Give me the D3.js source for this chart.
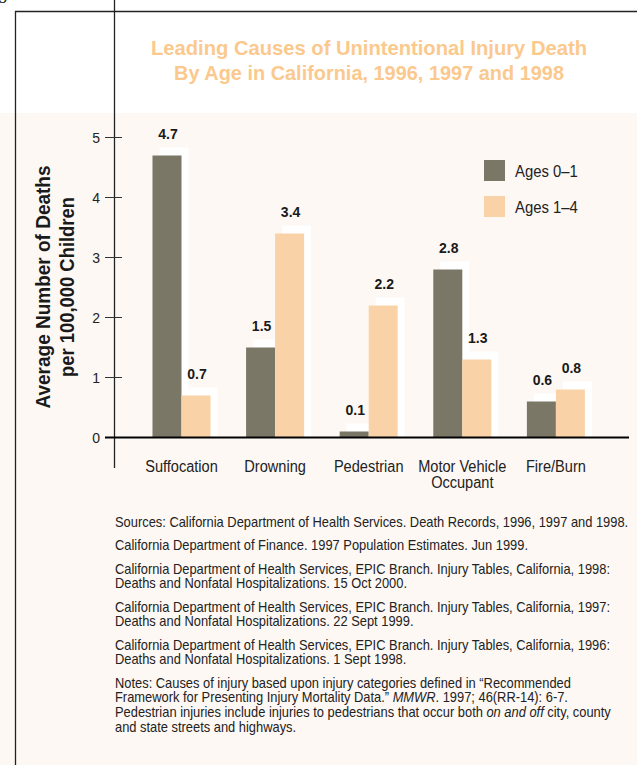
<!DOCTYPE html>
<html>
<head>
<meta charset="utf-8">
<script src="https://cdn.jsdelivr.net/npm/d3@7"></script>
<style>
    body { margin: 0; background: #ffffff; }
    svg { display: block; }
</style>
</head>
<body>
<div id="chart"></div>
<script>
// chart values
var categories = ["Suffocation", "Drowning", "Pedestrian", "Motor Vehicle Occupant", "Fire/Burn"];
var categoryLines = [["Suffocation"], ["Drowning"], ["Pedestrian"], ["Motor Vehicle", "Occupant"], ["Fire/Burn"]];
var seriesNames = ["Ages 0\u20131", "Ages 1\u20134"];
var ages0to1 = [4.7, 1.5, 0.1, 2.8, 0.6];
var ages1to4 = [0.7, 3.4, 2.2, 1.3, 0.8];
var yTicks = [0, 1, 2, 3, 4, 5];

var titleLines = ["Leading Causes of Unintentional Injury Death", "By Age in California, 1996, 1997 and 1998"];
var yTitleLines = ["Average Number of Deaths", "per 100,000 Children"];

// source notes, each paragraph is a list of lines, each line a list of [text, italic]
var notes = [
    [[["Sources: California Department of Health Services. Death Records, 1996, 1997 and 1998.", false]]],
    [[["California Department of Finance. 1997 Population Estimates. Jun 1999.", false]]],
    [[["California Department of Health Services, EPIC Branch. Injury Tables, California, 1998:", false]],
     [["Deaths and Nonfatal Hospitalizations. 15 Oct 2000.", false]]],
    [[["California Department of Health Services, EPIC Branch. Injury Tables, California, 1997:", false]],
     [["Deaths and Nonfatal Hospitalizations. 22 Sept 1999.", false]]],
    [[["California Department of Health Services, EPIC Branch. Injury Tables, California, 1996:", false]],
     [["Deaths and Nonfatal Hospitalizations. 1 Sept 1998.", false]]],
    [[["Notes: Causes of injury based upon injury categories defined in \u201cRecommended", false]],
     [["Framework for Presenting Injury Mortality Data.\u201d ", false], ["MMWR", true], [". 1997; 46(RR-14): 6-7.", false]],
     [["Pedestrian injuries include injuries to pedestrians that occur both ", false], ["on and off", true], [" city, county", false]],
     [["and state streets and highways.", false]]]
];

var width = 637;
var height = 765;
var darkColor = "#7a7767";
var lightColor = "#f9d3a7";
var font = "'Liberation Sans', Arial, sans-serif";

// squeeze a text to a share of its natural width (the reference uses a condensed face)
function condense(sel, k) {
    sel.each(function () {
        var w = this.getComputedTextLength();
        d3.select(this).attr("textLength", w * k).attr("lengthAdjust", "spacingAndGlyphs");
    });
}

var svg = d3.select("#chart")
    .append("svg")
    .attr("width", width)
    .attr("height", height);

// background panels
svg.append("rect").attr("x", 0).attr("y", 0).attr("width", width).attr("height", height).attr("fill", "#ffffff");
svg.append("rect").attr("x", 0).attr("y", 113).attr("width", width).attr("height", height - 113).attr("fill", "#fdf8f4");

// frame lines
svg.append("line").attr("x1", 15).attr("x2", width).attr("y1", 11.5).attr("y2", 11.5)
    .attr("stroke", "#222").attr("stroke-width", 1.3);
svg.append("line").attr("x1", 15.5).attr("x2", 15.5).attr("y1", 11).attr("y2", height)
    .attr("stroke", "#222").attr("stroke-width", 1.3);
svg.append("line").attr("x1", 114.5).attr("x2", 114.5).attr("y1", 0).attr("y2", 468)
    .attr("stroke", "#222").attr("stroke-width", 1.3);
svg.append("text").attr("x", -2).attr("y", -1)
    .style("font-family", "'DejaVu Serif', serif").style("font-size", "16px").attr("fill", "#222")
    .text("g");

// title
svg.selectAll(".title")
    .data(titleLines)
    .enter()
    .append("text")
    .attr("class", "title")
    .attr("x", 369)
    .attr("y", (d, i) => 55 + i * 24.5)
    .attr("text-anchor", "middle")
    .attr("textLength", (d, i) => i == 0 ? 436 : 390)
    .attr("lengthAdjust", "spacingAndGlyphs")
    .style("font-family", font)
    .style("font-weight", "bold")
    .style("font-size", "21px")
    .attr("fill", "#fbc98d")
    .text(d => d);

// scales
var x = d3.scaleBand()
    .domain(categories)
    .range([134.7, 602.7])
    .paddingInner(0.38)
    .paddingOuter(0.19);

var sub = d3.scaleBand()
    .domain(seriesNames)
    .range([0, x.bandwidth()]);

var y = d3.scaleLinear()
    .domain([0, 5])
    .range([437.5, 137.5]);

var bars = [];
categories.forEach((c, i) => {
    [ages0to1[i], ages1to4[i]].forEach((v, j) => bars.push({ cat: c, series: seriesNames[j], value: v, j: j }));
});

// y ticks
var yAxis = svg.append("g");
yAxis.selectAll(".tick")
    .data(yTicks)
    .enter()
    .append("line")
    .attr("x1", 105).attr("x2", 122)
    .attr("y1", d => y(d)).attr("y2", d => y(d))
    .attr("stroke", "#333").attr("stroke-width", 1);
yAxis.selectAll(".ticklabel")
    .data(yTicks)
    .enter()
    .append("text")
    .attr("x", 100)
    .attr("y", d => y(d) + 5)
    .attr("text-anchor", "end")
    .style("font-family", font)
    .style("font-size", "14px")
    .attr("fill", "#222")
    .text(d => d);

// y title
svg.selectAll(".ytitle")
    .data(yTitleLines)
    .enter()
    .append("text")
    .attr("transform", (d, i) => "translate(" + (50 + i * 23.5) + ",287) rotate(-90)")
    .attr("text-anchor", "middle")
    .attr("textLength", (d, i) => i == 0 ? 243 : 180)
    .attr("lengthAdjust", "spacingAndGlyphs")
    .style("font-family", font)
    .style("font-weight", "bold")
    .style("font-size", "20px")
    .attr("fill", "#1a1a1a")
    .text(d => d);

// white offset shadows behind bars
svg.selectAll(".shadow")
    .data(bars)
    .enter()
    .append("rect")
    .attr("class", "shadow")
    .attr("x", d => x(d.cat) + sub(d.series) + 7)
    .attr("y", d => y(d.value) - 8)
    .attr("width", sub.bandwidth())
    .attr("height", d => y(0) - y(d.value) + 8)
    .attr("fill", "#ffffff");

svg.selectAll(".bar")
    .data(bars)
    .enter()
    .append("rect")
    .attr("class", "bar")
    .attr("x", d => x(d.cat) + sub(d.series))
    .attr("y", d => y(d.value))
    .attr("width", sub.bandwidth())
    .attr("height", d => y(0) - y(d.value))
    .attr("fill", d => d.j == 0 ? darkColor : lightColor);

// value labels
svg.selectAll(".vlabel")
    .data(bars)
    .enter()
    .append("text")
    .attr("x", d => x(d.cat) + sub(d.series) + sub.bandwidth() / 2 + 1)
    .attr("y", d => y(d.value) - 17)
    .attr("text-anchor", "middle")
    .style("font-family", font)
    .style("font-weight", "bold")
    .style("font-size", "14px")
    .attr("fill", "#1a1a1a")
    .text(d => d.value.toFixed(1));

// baseline
svg.append("line")
    .attr("x1", 105).attr("x2", 629)
    .attr("y1", y(0)).attr("y2", y(0))
    .attr("stroke", "#000").attr("stroke-width", 2.2);

// category labels
var catRows = [];
categories.forEach((c, i) => {
    categoryLines[i].forEach((t, k) => catRows.push({ cat: c, t: t, k: k }));
});
svg.selectAll(".catlabel")
    .data(catRows)
    .enter()
    .append("text")
    .attr("class", "catlabel")
    .attr("x", d => x(d.cat) + x.bandwidth() / 2)
    .attr("y", d => 472 + d.k * 16)
    .attr("text-anchor", "middle")
    .style("font-family", font)
    .style("font-size", "16px")
    .attr("fill", "#222")
    .text(d => d.t)
    .call(condense, 0.91);

// legend
var legend = svg.selectAll(".legend")
    .data(seriesNames)
    .enter()
    .append("g")
    .attr("transform", (d, i) => "translate(484," + (160 + i * 36) + ")");
legend.append("rect")
    .attr("width", 21).attr("height", 21)
    .attr("fill", (d, i) => i == 0 ? darkColor : lightColor);
legend.append("text")
    .attr("x", 31).attr("y", 17)
    .style("font-family", font)
    .style("font-size", "16px")
    .attr("fill", "#222")
    .text(d => d)
    .call(condense, 0.93);

// sources and notes, squeezed horizontally so the first line spans like the reference
var noteG = svg.append("g");
var lineY = 527;
notes.forEach(par => {
    par.forEach(line => {
        var t = noteG.append("text")
            .attr("x", 0)
            .attr("y", lineY)
            .style("font-family", font)
            .style("font-size", "14px")
            .attr("fill", "#222");
        line.forEach(seg => {
            t.append("tspan")
                .style("font-style", seg[1] ? "italic" : "normal")
                .text(seg[0]);
        });
        lineY += 14.7;
    });
    lineY += 8.6;
});
var firstW = noteG.select("text").node().getComputedTextLength();
noteG.attr("transform", "translate(115,0) scale(" + (514 / firstW) + ",1)");
</script>
</body>
</html>
